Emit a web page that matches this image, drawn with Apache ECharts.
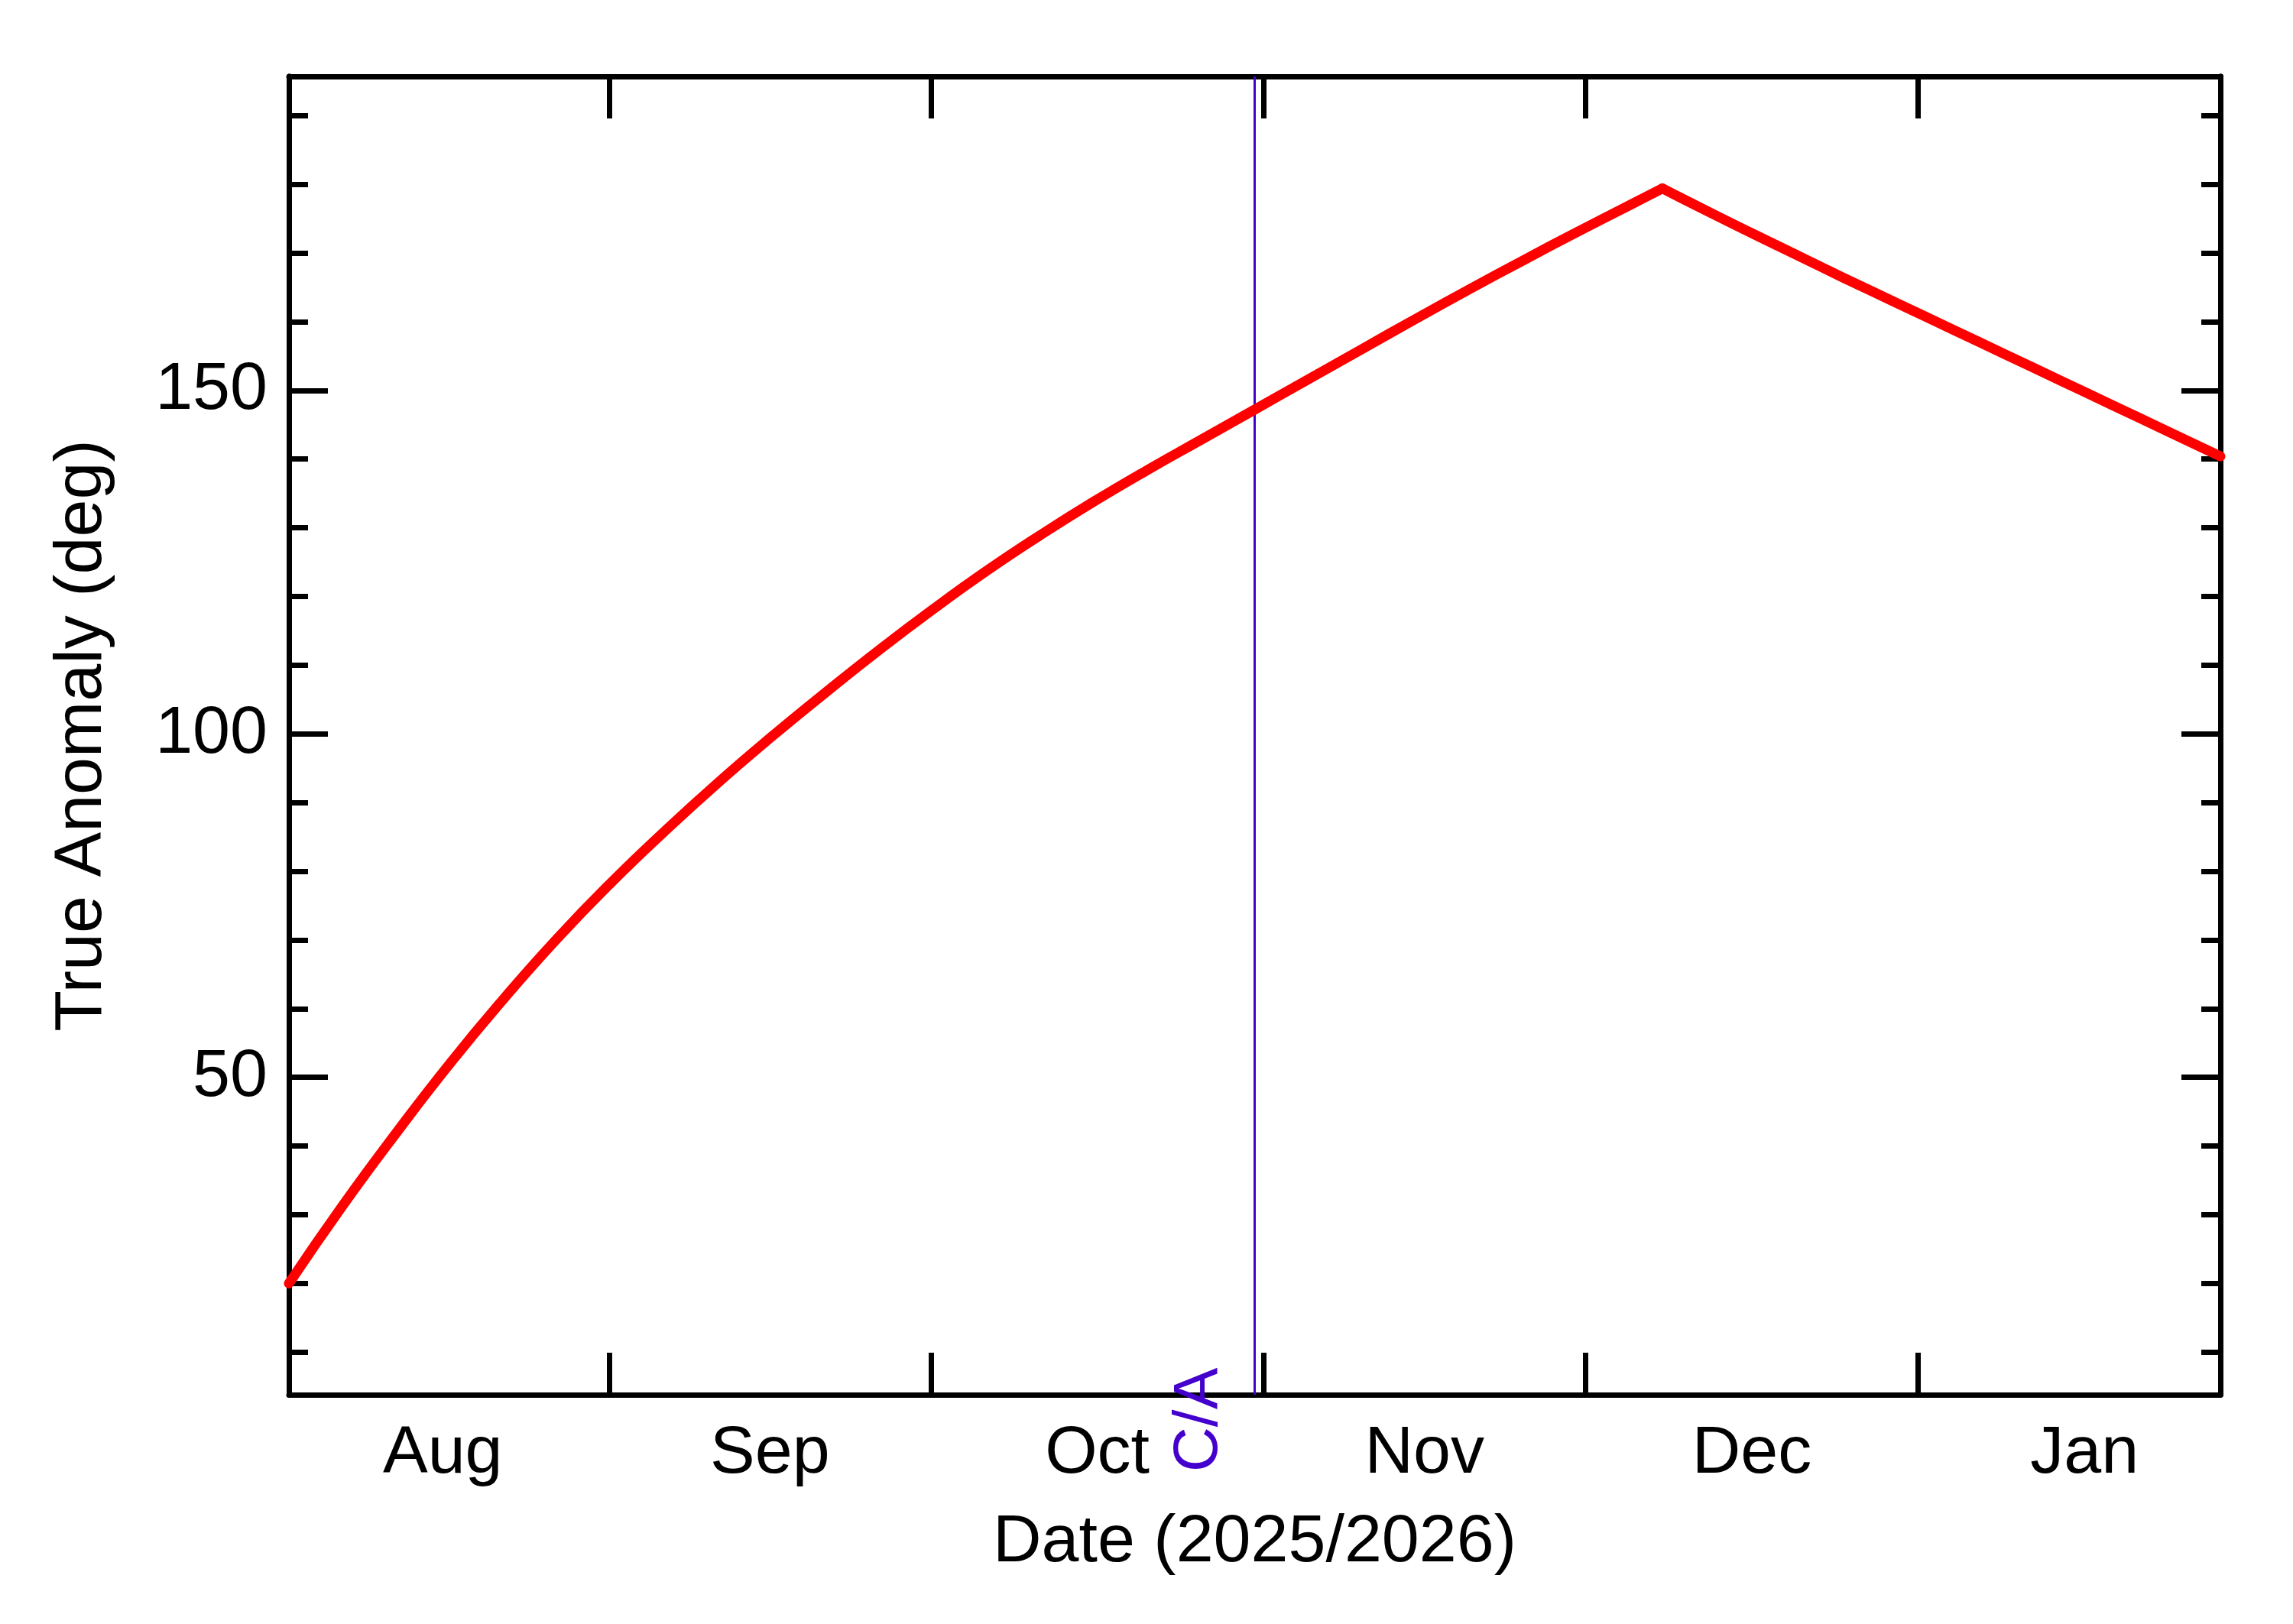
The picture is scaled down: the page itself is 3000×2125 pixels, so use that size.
<!DOCTYPE html>
<html lang="en">

<head>
    <meta charset="UTF-8">
    <title>True Anomaly</title>
    <script src="https://cdnjs.cloudflare.com/ajax/libs/echarts/6.0.0/echarts.min.js"></script>
    <style>
        body { margin: 0; background: #fff; }
    </style>
</head>

<body>
    <div id="main" style="width: 3000px;height:2125px;"></div>

    <script>
        // dates (UTC, 04:00) and true anomaly in degrees
        const dates = [
            '2025-08-02', '2025-08-07', '2025-08-12', '2025-08-17', '2025-08-22', '2025-08-27',
            '2025-09-01', '2025-09-06', '2025-09-11', '2025-09-16', '2025-09-21', '2025-09-26',
            '2025-10-01', '2025-10-06', '2025-10-11', '2025-10-16', '2025-10-21', '2025-10-26',
            '2025-10-31', '2025-11-05', '2025-11-10', '2025-11-15', '2025-11-20', '2025-11-25',
            '2025-11-30', '2025-12-05', '2025-12-08', '2025-12-10', '2025-12-15', '2025-12-20',
            '2025-12-25', '2025-12-30', '2026-01-04', '2026-01-09', '2026-01-14', '2026-01-19',
            '2026-01-24', '2026-01-29'
        ];
        const anomaly = [
            20.0, 31.3, 41.9, 52.0, 61.4, 70.2,
            78.3, 85.8, 92.9, 99.6, 106.0, 112.2,
            118.1, 123.7, 128.9, 133.8, 138.4, 142.8,
            147.2, 151.6, 156.0, 160.4, 164.7, 168.9,
            173.0, 177.0, 179.4, 177.8, 173.9, 170.1,
            166.3, 162.6, 158.9, 155.2, 151.5, 147.8,
            144.1, 140.4
        ];
        const closeApproach = '2025-10-31';
        const dateStart = '2025-08-02';
        const dateEnd = '2026-01-29';
        const monthStarts = ['2025-09-01', '2025-10-01', '2025-11-01', '2025-12-01', '2026-01-01'];
        const monthMids = ['2025-08-16T12:00', '2025-09-16T00:00', '2025-10-16T12:00', '2025-11-16T00:00', '2025-12-16T12:00', '2026-01-16T12:00'];
        const monthNames = ['Jan', 'Feb', 'Mar', 'Apr', 'May', 'Jun', 'Jul', 'Aug', 'Sep', 'Oct', 'Nov', 'Dec'];
        const yMajor = [50, 100, 150];
        const yMinor = [10, 20, 30, 40, 60, 70, 80, 90, 110, 120, 130, 140, 160, 170, 180, 190];
        const yMin = 3.8, yMax = 195.7;

        function t(s) {
            // dates without time are taken at 04:00 UTC
            return Date.parse(s.length === 10 ? s + 'T04:00:00Z' : s + ':00Z');
        }
        function tMonth(s) { return Date.parse(s + 'T00:00:00Z'); }

        const FONT = 'Liberation Sans';
        const AX = { color: '#000', width: 7 };
        const RED = { color: '#ff0000', width: 13, join: 'round', cap: 'round' };

        const myChart = echarts.init(document.getElementById('main'));

        const lineData = dates.map((d, i) => [t(d), anomaly[i]]);
        // split at the turning point so each branch can be smoothed without rounding the corner
        let peak = 0;
        anomaly.forEach((v, i) => { if (v > anomaly[peak]) peak = i; });
        const rising = lineData.slice(0, peak + 1);
        const falling = lineData.slice(peak);
        const xMin = t(dateStart), xMax = t(dateEnd);

        function xAx(pos, withLabels) {
            return {
                type: 'value', position: pos, min: xMin, max: xMax,
                axisLine: { show: true, onZero: false, lineStyle: AX },
                splitLine: { show: false },
                axisTick: { show: true, inside: true, length: 55, lineStyle: AX, customValues: monthStarts.map(tMonth) },
                axisLabel: {
                    show: withLabels, margin: 34, fontFamily: FONT, fontSize: 88, color: '#000',
                    customValues: monthMids.map(s => Date.parse(s + ':00Z')),
                    formatter: v => monthNames[new Date(v).getUTCMonth()]
                },
                name: withLabels ? 'Date (2025/2026)' : '',
                nameLocation: 'middle', nameGap: 150,
                nameTextStyle: { fontFamily: FONT, fontSize: 88, color: '#000' }
            };
        }
        function yAx(pos, ticks, len, withLabels, title) {
            return {
                type: 'value', position: pos, min: yMin, max: yMax,
                axisLine: { show: true, onZero: false, lineStyle: AX },
                splitLine: { show: false },
                axisTick: { show: true, inside: true, length: len, lineStyle: AX, customValues: ticks },
                axisLabel: {
                    show: withLabels, margin: 28, fontFamily: FONT, fontSize: 88, color: '#000',
                    customValues: yMajor
                },
                name: title || '',
                nameLocation: 'middle', nameGap: 226,
                nameTextStyle: { fontFamily: FONT, fontSize: 88, color: '#000' }
            };
        }

        const option = {
            animation: false,
            backgroundColor: '#fff',
            grid: { left: 378, right: 95, top: 100, bottom: 300 },
            xAxis: [xAx('bottom', true), xAx('top', false)],
            yAxis: [
                yAx('left', yMajor, 51, true, 'True Anomaly (deg)'),
                yAx('left', yMinor, 25, false),
                yAx('right', yMajor, 51, false),
                yAx('right', yMinor, 25, false)
            ],
            series: [
                {
                    type: 'line',
                    xAxisIndex: 0, yAxisIndex: 0,
                    data: rising,
                    smooth: 0.5,
                    showSymbol: false,
                    lineStyle: RED,
                    z: 3,
                    markLine: {
                        silent: true,
                        symbol: 'none',
                        label: { show: false },
                        lineStyle: { color: '#4400cc', width: 3, type: 'solid' },
                        data: [{ xAxis: t(closeApproach) }],
                        z: 2
                    }
                },
                {
                    type: 'line',
                    xAxisIndex: 0, yAxisIndex: 0,
                    data: falling,
                    smooth: 0.5,
                    showSymbol: false,
                    lineStyle: RED,
                    z: 3
                }
            ]
        };

        myChart.setOption(option);

        // C/A label, placed next to the close-approach line
        const caX = myChart.convertToPixel({ xAxisIndex: 0 }, t(closeApproach));
        const axisY = myChart.convertToPixel({ yAxisIndex: 0 }, yMin);
        myChart.setOption({
            graphic: [{
                type: 'text',
                x: caX - 72, y: axisY + 33,
                rotation: Math.PI / 2,
                style: {
                    text: 'C/A', fontFamily: FONT, fontSize: 82, fill: '#4400cc',
                    align: 'center', verticalAlign: 'middle'
                },
                z: 10
            }]
        });
    </script>
</body>

</html>
